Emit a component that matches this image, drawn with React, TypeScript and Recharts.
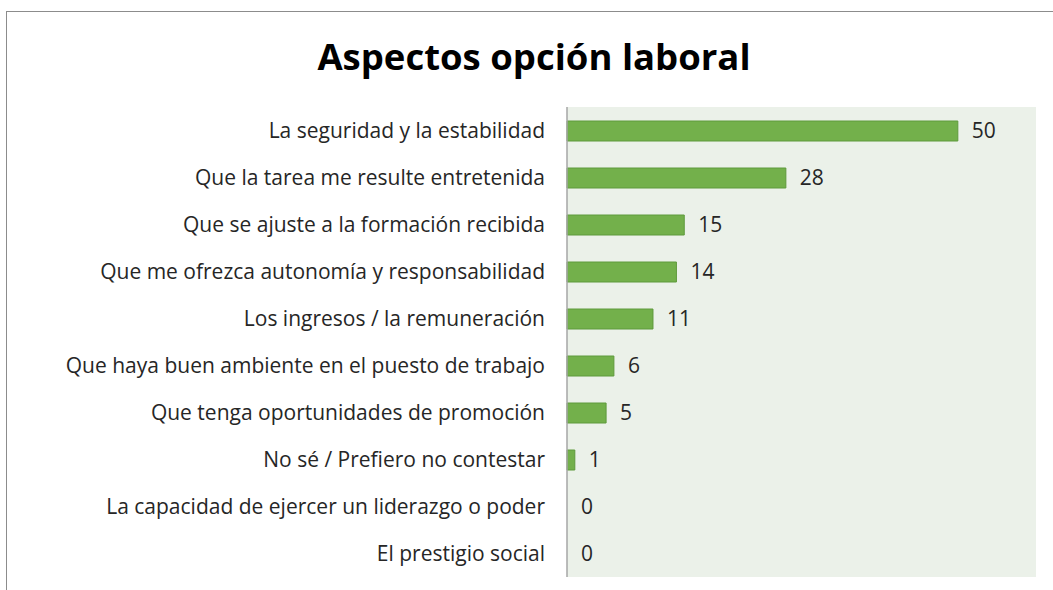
import React from "react";
import { BarChart, Bar, XAxis, YAxis, CartesianGrid, LabelList, Cell } from "recharts";

const categories = [
  "La seguridad y la estabilidad",
  "Que la tarea me resulte entretenida",
  "Que se ajuste a la formación recibida",
  "Que me ofrezca autonomía y responsabilidad",
  "Los ingresos / la remuneración",
  "Que haya buen ambiente en el puesto de trabajo",
  "Que tenga oportunidades de promoción",
  "No sé / Prefiero no contestar",
  "La capacidad de ejercer un liderazgo o poder",
  "El prestigio social",
];
const values = [50, 28, 15, 14, 11, 6, 5, 1, 0, 0];
const title = "Aspectos opción laboral";

const data = categories.map((c, i) => ({ name: c, value: values[i] }));

const FONT = "'Open Sans', sans-serif";

export default function App() {
  return (
    <div style={{ position: "fixed", left: 0, top: 0, width: 1053, height: 590, overflow: "hidden", background: "#fff" }}>
      <div style={{ position: "absolute", left: 6, top: 11, width: 1100, height: 650, borderLeft: "1px solid #8c8c8c", borderTop: "1px solid #8c8c8c" }} />
      <div style={{ position: "absolute", left: 0, top: 31, width: 1068, textAlign: "center", fontFamily: FONT, fontWeight: 700, fontSize: 36.5, color: "#000", lineHeight: "50px" }}>
        {title}
      </div>
      <div style={{ position: "absolute", left: 0, top: 0 }}>
        <BarChart width={1053} height={590} data={data} layout="vertical" margin={{ top: 107, right: 17, bottom: 13, left: 0 }} barSize={20}>
          <CartesianGrid horizontal={false} vertical={false} fill="#EBF1E9" />
          <XAxis type="number" domain={[0, 60]} hide />
          <YAxis
            type="category"
            dataKey="name"
            width={567}
            axisLine={{ stroke: "#a6a6a6", strokeWidth: 1.5 }}
            tickLine={false}
            tickMargin={16}
            interval={0}
            tick={{ fill: "#262626", fontSize: 21, fontFamily: FONT }}
          />
          <Bar
            dataKey="value"
            fill="#73B04B"
            stroke="#5E9A3C"
            strokeWidth={1}
            minPointSize={(v: number) => (v === 0 ? 0.01 : 0)}
            isAnimationActive={false}
          >
            {data.map((d, i) => (
              <Cell key={i} stroke={d.value === 0 ? "none" : "#5E9A3C"} fill={d.value === 0 ? "none" : "#73B04B"} />
            ))}
            <LabelList dataKey="value" position="right" offset={14} fill="#262626" fontSize={21} fontFamily={FONT} />
          </Bar>
        </BarChart>
      </div>
    </div>
  );
}
